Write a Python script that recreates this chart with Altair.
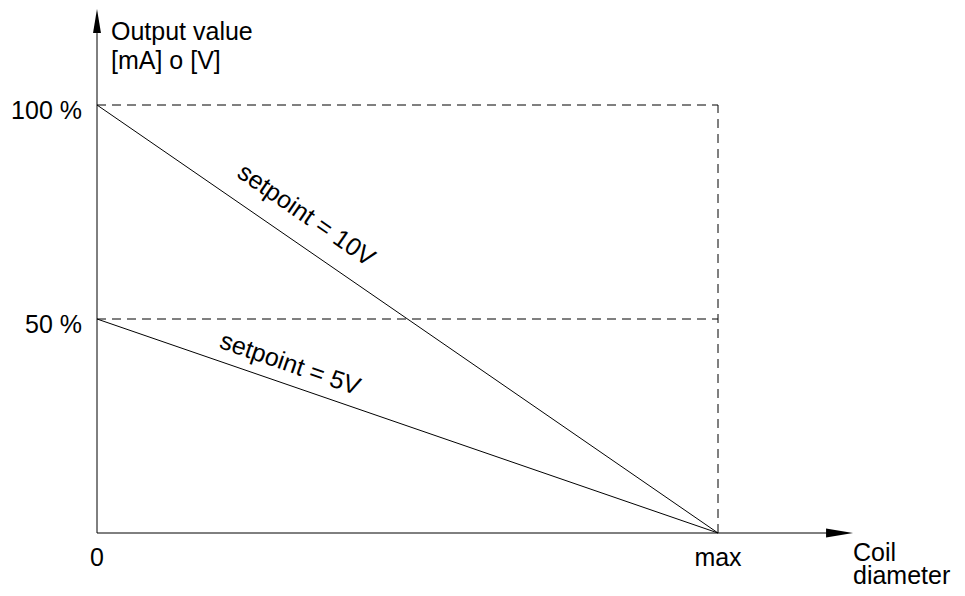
import altair as alt
import pandas as pd
import math

# ---- chart values ----
x_ticks = [0.0, 1.0]
x_tick_labels = ["0", "max"]
y_ticks = [50, 100]
y_tick_labels = ["50 %", "100 %"]
series_names = ["setpoint = 10V", "setpoint = 5V"]
series_start = [100, 50]   # output at diameter 0
series_end = [0, 0]        # output at max diameter
label_x = [0.337, 0.311]
label_y = [74.3, 39.5]
x_title = "Coil\ndiameter"
y_title = "Output value\n[mA] o [V]"

# plot geometry
W, H = 949, 580
XMIN, XMAX = -0.14332, 1.38486
YMIN, YMAX = -12.85, 122.664
xs = alt.Scale(domain=[XMIN, XMAX], nice=False, zero=False)
ys = alt.Scale(domain=[YMIN, YMAX], nice=False, zero=False)
px_x = W / (XMAX - XMIN)
px_y = H / (YMAX - YMIN)

FONT = "Liberation Sans"
FS = 25


def X(f="x"):
    return alt.X(f, type="quantitative", scale=xs, axis=None)


def Y(f="y"):
    return alt.Y(f, type="quantitative", scale=ys, axis=None)


# series lines
rows = []
for n, s, e in zip(series_names, series_start, series_end):
    rows.append({"name": n, "x": x_ticks[0], "y": s})
    rows.append({"name": n, "x": x_ticks[1], "y": e})
lines = alt.Chart(pd.DataFrame(rows)).mark_line(color="black", strokeWidth=1).encode(
    x=X(), y=Y(), detail="name:N")

# dashed guides
guides = pd.DataFrame({
    "x": [x_ticks[0], x_ticks[0], x_ticks[1]],
    "x2": [x_ticks[1], x_ticks[1], x_ticks[1]],
    "y": [y_ticks[1], y_ticks[0], 0],
    "y2": [y_ticks[1], y_ticks[0], y_ticks[1]],
})
dashed = alt.Chart(guides).mark_rule(color="black", strokeWidth=1, strokeDash=[9, 6]).encode(
    x=X(), x2="x2", y=Y(), y2="y2")

# axes lines
x_end, y_end = 1.19, 116.8
axes = pd.DataFrame({"x": [0, 0], "x2": [x_end, 0], "y": [0, 0], "y2": [0, y_end]})
axis_lines = alt.Chart(axes).mark_rule(color="black", strokeWidth=1).encode(
    x=X(), x2="x2", y=Y(), y2="y2")

# arrowheads
arr_x = alt.Chart(pd.DataFrame({"x": [1.1957], "y": [0]})).mark_point(
    shape="M-1,-0.33L1,0L-1,0.33Z", size=729, filled=True, color="black", opacity=1, strokeWidth=0
).encode(x=X(), y=Y())
arr_y = alt.Chart(pd.DataFrame({"x": [0], "y": [119.6]})).mark_point(
    shape="M-0.33,1L0,-1L0.33,1Z", size=576, filled=True, color="black", opacity=1, strokeWidth=0
).encode(x=X(), y=Y())

# tick labels
ytl = alt.Chart(pd.DataFrame({"y": y_ticks, "t": y_tick_labels, "x": [0, 0]})).mark_text(
    align="right", baseline="alphabetic", dx=-15, dy=13.5, font=FONT, fontSize=FS, color="black"
).encode(x=X(), y=Y(), text="t:N")
xtl = alt.Chart(pd.DataFrame({"x": x_ticks, "t": x_tick_labels, "y": [0, 0]})).mark_text(
    align="center", baseline="alphabetic", dy=32.5, font=FONT, fontSize=FS, color="black"
).encode(x=X(), y=Y(), text="t:N")

# axis titles
xt = alt.Chart(pd.DataFrame({"x": [1.2174], "y": [0], "t": [x_title]})).mark_text(
    align="left", baseline="alphabetic", dy=28, font=FONT, fontSize=FS, color="black",
    lineBreak="\n", lineHeight=23
).encode(x=X(), y=Y(), text="t:N")
yt = alt.Chart(pd.DataFrame({"x": [0], "y": [y_end], "t": [y_title]})).mark_text(
    align="left", baseline="alphabetic", dx=14, dy=7, font=FONT, fontSize=FS, color="black",
    lineBreak="\n", lineHeight=29
).encode(x=X(), y=Y(), text="t:N")

# series labels, rotated along their lines
labels = []
for n, s, e, lx, ly in zip(series_names, series_start, series_end, label_x, label_y):
    ang = math.degrees(math.atan(((s - e) * px_y) / ((x_ticks[1] - x_ticks[0]) * px_x)))
    labels.append(alt.Chart(pd.DataFrame({"x": [lx], "y": [ly], "t": [n]})).mark_text(
        align="center", baseline="middle", angle=ang, font=FONT, fontSize=FS, color="black"
    ).encode(x=X(), y=Y(), text="t:N"))

chart = alt.layer(dashed, lines, axis_lines, arr_x, arr_y, ytl, xtl, xt, yt, *labels).properties(
    width=W, height=H, autosize=alt.AutoSizeParams(type="none"), padding=0, background="white"
).configure_view(stroke=None)

chart.save("out.html", embed_options={"renderer": "svg", "actions": False})
